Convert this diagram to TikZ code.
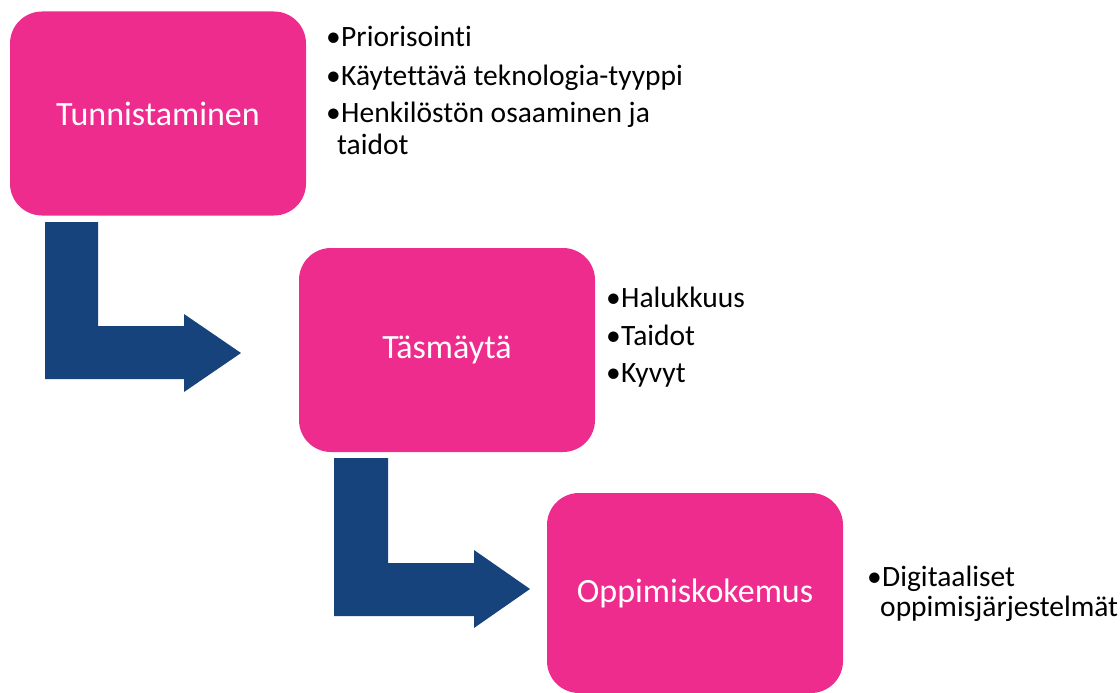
\documentclass[tikz,border=0pt]{standalone}
\usepackage{fontspec}
\setmainfont[Ligatures=NoCommon]{Carlito}
\definecolor{boxpink}{RGB}{238,44,142}
\definecolor{arrowblue}{RGB}{23,67,125}
\begin{document}
\begin{tikzpicture}[x=1pt,y=-1pt,
  stagebox/.style={rectangle,rounded corners=32pt,fill=boxpink,draw=none,
    minimum width=296pt,minimum height=204pt,text=white,
    font=\fontsize{34}{40}\selectfont},
  bullettext/.style={anchor=base west,inner sep=0pt,text=black,
    font=\fontsize{29.5}{34}\selectfont},
  blockarrow/.style={fill=arrowblue,draw=none}]
\useasboundingbox (0,0) rectangle (1120,693);
% boxes
\node[stagebox] (b1) at (158,113.5) {Tunnistaminen};
\node[stagebox] (b2) at (447,350) {Täsmäytä};
\node[stagebox,minimum height=200pt] (b3) at (695,593) {Oppimiskokemus};
% bent arrows
\fill[blockarrow] (45,222) -- (98,222) -- (98,326) -- (184,326) -- (184,314)
  -- (241,353) -- (184,392) -- (184,379) -- (45,379) -- cycle;
\fill[blockarrow] (334,458) -- (388,458) -- (388,563) -- (474,563) -- (474,550)
  -- (530,589) -- (474,628) -- (474,616) -- (334,616) -- cycle;
% bullet lists
\node[bullettext] (d11) at (326,47) {•};
\node[bullettext] (t11) at (341,47) {Priorisointi};
\node[bullettext] (d12) at (326,85) {•};
\node[bullettext] (t12) at (341,85) {Käytettävä teknologia-tyyppi};
\node[bullettext] (d13) at (326,122) {•};
\node[bullettext] (t13) at (341,122) {Henkilöstön osaaminen ja};
\node[bullettext] (t14) at (337,154) {taidot};
\node[bullettext] (d21) at (606,307) {•};
\node[bullettext] (t21) at (621,307) {Halukkuus};
\node[bullettext] (d22) at (606,345) {•};
\node[bullettext] (t22) at (621,345) {Taidot};
\node[bullettext] (d23) at (606,382) {•};
\node[bullettext] (t23) at (621,382) {Kyvyt};
\node[bullettext] (d31) at (867,586) {•};
\node[bullettext] (t31) at (882,586) {Digitaaliset};
\node[bullettext] (t32) at (880,616) {oppimisjärjestelmät};
\end{tikzpicture}
\end{document}
